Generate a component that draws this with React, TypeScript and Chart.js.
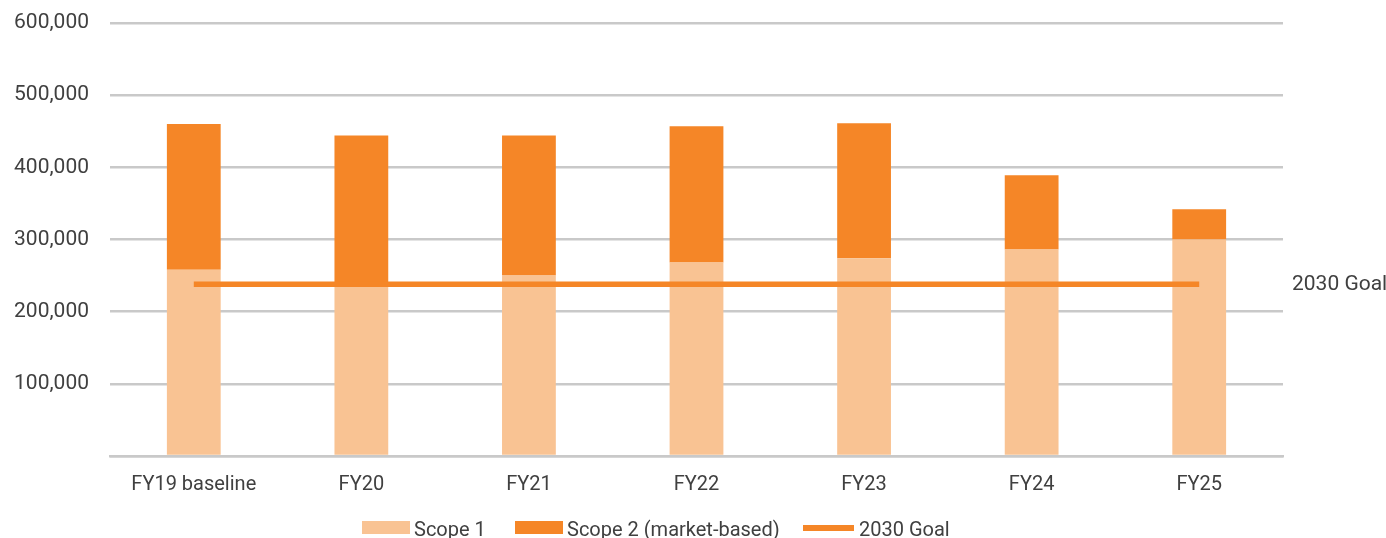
import React, { useEffect, useRef } from "react";
import { Chart, registerables } from "chart.js";

Chart.register(...registerables);

const categories = ["FY19 baseline", "FY20", "FY21", "FY22", "FY23", "FY24", "FY25"];
const scope1 = [258000, 235000, 250000, 268000, 274000, 286000, 300000];
const scope2 = [202000, 209000, 194000, 189000, 187000, 103000, 42000];
const goal2030 = [238000, 238000, 238000, 238000, 238000, 238000, 238000];
const yTicks = [0, 100000, 200000, 300000, 400000, 500000, 600000];

const C_SCOPE1 = "#F9C393";
const C_SCOPE2 = "#F58627";
const C_TEXT = "#404040";
const C_GRID = "#c9c9c9";
const FONT = "Roboto";

const legendItems = [
  { label: "Scope 1", color: C_SCOPE1, kind: "box", bx: 362, tx: 414 },
  { label: "Scope 2 (market-based)", color: C_SCOPE2, kind: "box", bx: 515, tx: 567 },
  { label: "2030 Goal", color: C_SCOPE2, kind: "line", bx: 803, tx: 859 },
];

const extrasPlugin = {
  id: "extras",
  afterDraw(chart: any) {
    const ctx = chart.ctx;
    const y = chart.scales.y;
    const area = chart.chartArea;
    ctx.save();
    ctx.fillStyle = C_TEXT;
    ctx.font = `21px ${FONT}`;
    ctx.textAlign = "left";
    ctx.textBaseline = "middle";
    ctx.fillText("2030 Goal", area.right + 9, y.getPixelForValue(goal2030[goal2030.length - 1]) + 1);
    ctx.font = `20px ${FONT}`;
    ctx.textBaseline = "alphabetic";
    legendItems.forEach((it) => {
      ctx.fillStyle = it.color;
      if (it.kind === "box") ctx.fillRect(it.bx, 521, 48, 13);
      else ctx.fillRect(it.bx, 525, 51, 6);
      ctx.fillStyle = C_TEXT;
      ctx.fillText(it.label, it.tx, 536);
    });
    ctx.restore();
  },
};

export default function App() {
  const ref = useRef<HTMLCanvasElement | null>(null);
  useEffect(() => {
    if (!ref.current) return;
    const chart = new Chart(ref.current, {
      type: "bar",
      data: {
        labels: categories,
        datasets: [
          {
            type: "line",
            label: "2030 Goal",
            data: goal2030,
            borderColor: C_SCOPE2,
            backgroundColor: C_SCOPE2,
            borderWidth: 5.5,
            pointRadius: 0,
            fill: false,
            stack: "goal",
            order: 0,
          } as any,
          {
            label: "Scope 1",
            data: scope1,
            backgroundColor: C_SCOPE1,
            stack: "s",
            order: 1,
          },
          {
            label: "Scope 2 (market-based)",
            data: scope2,
            backgroundColor: C_SCOPE2,
            stack: "s",
            order: 1,
          },
        ],
      },
      options: {
        animation: false,
        responsive: true,
        maintainAspectRatio: false,
        layout: { padding: { top: 23, right: 103, bottom: 0, left: 0 } },
        datasets: { bar: { categoryPercentage: 1, barPercentage: 0.321 } },
        plugins: { legend: { display: false }, tooltip: { enabled: false } },
        scales: {
          x: {
            stacked: true,
            grid: { display: false, drawTicks: false },
            border: { display: true, color: C_GRID, width: 2.5 },
            ticks: { color: C_TEXT, font: { family: FONT, size: 20 }, padding: 17, maxRotation: 0 },
            afterFit: (s: any) => {
              s.height = 82;
            },
          },
          y: {
            stacked: true,
            min: 0,
            max: 600000,
            afterBuildTicks: (s: any) => {
              s.ticks = yTicks.map((v) => ({ value: v }));
            },
            grid: { color: C_GRID, lineWidth: 2.5, drawTicks: false },
            border: { display: false },
            ticks: {
              color: C_TEXT,
              font: { family: FONT, size: 21 },
              padding: 21,
              callback: (v: any) => (Number(v) === 0 ? "" : Number(v).toLocaleString("en-US")),
            },
            afterFit: (s: any) => {
              s.width = 110;
              s.paddingTop = 0;
              s.paddingBottom = 0;
            },
          },
        },
      },
      plugins: [extrasPlugin],
    });
    return () => chart.destroy();
  }, []);
  return (
    <div style={{ position: "absolute", left: 0, top: 0, width: 1386, height: 538 }}>
      <canvas ref={ref} />
    </div>
  );
}
